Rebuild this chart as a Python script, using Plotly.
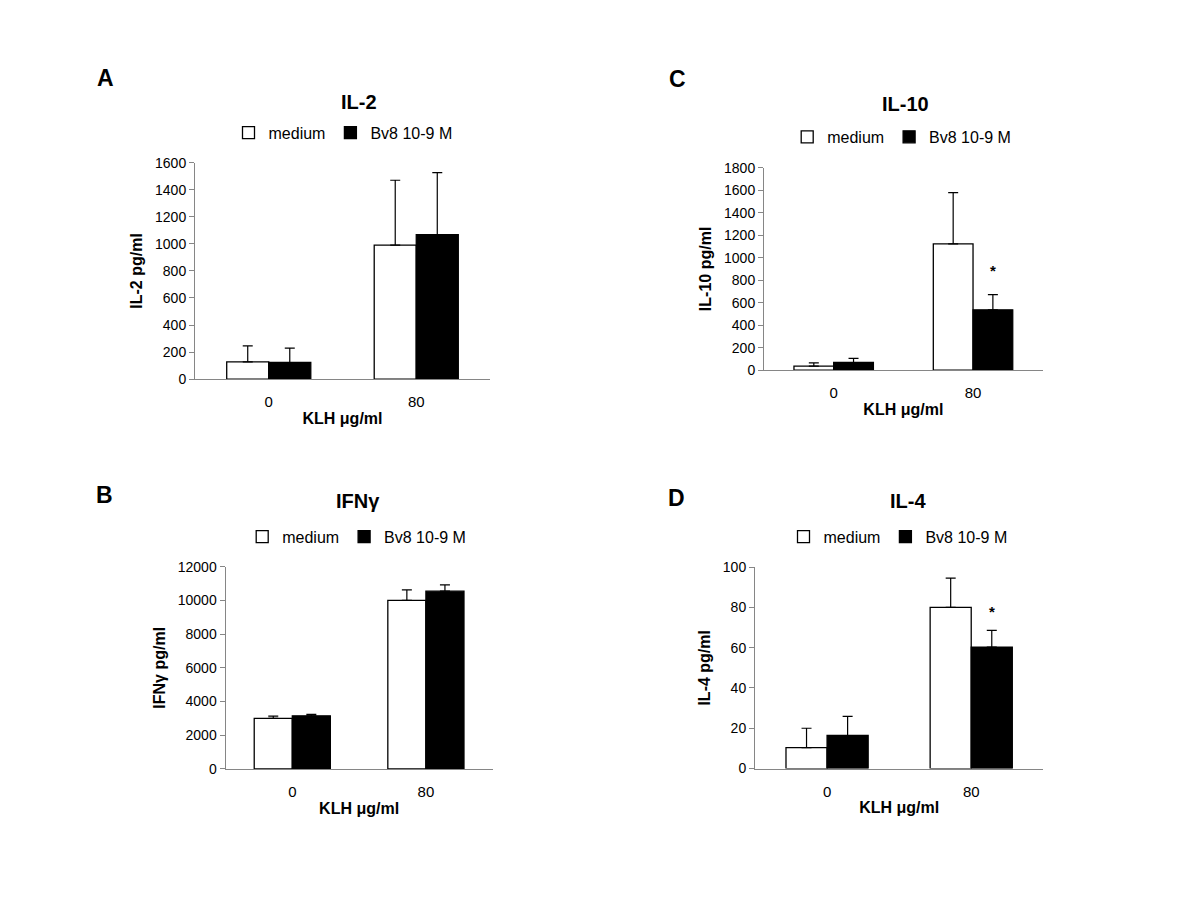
import plotly.graph_objects as go

# ---------------- data ----------------
categories = ["0", "80"]
series_names = ["medium", "Bv8 10-9 M"]

il2_medium = [128, 990]
il2_medium_err = [118, 480]
il2_bv8 = [123, 1068]
il2_bv8_err = [106, 458]

ifng_medium = [3000, 10000]
ifng_medium_err = [130, 620]
ifng_bv8 = [3150, 10550]
ifng_bv8_err = [80, 370]

il10_medium = [35, 1122]
il10_medium_err = [30, 456]
il10_bv8 = [68, 536]
il10_bv8_err = [36, 136]

il4_medium = [10.4, 80]
il4_medium_err = [9.6, 14.5]
il4_bv8 = [16.4, 60.3]
il4_bv8_err = [9.5, 8.3]

panel_letters = ["A", "B", "C", "D"]
panel_titles = ["IL-2", "IFNγ", "IL-10", "IL-4"]
y_titles = ["IL-2 pg/ml", "IFNγ pg/ml", "IL-10 pg/ml", "IL-4 pg/ml"]
x_title = "KLH μg/ml"
y_max = [1600, 12000, 1800, 100]
y_step = [200, 2000, 200, 20]
significance = [None, None, "*", "*"]   # marker above Bv8 at KLH 80
star_y = [None, None, 882, 78]

# ---------------- layout geometry (target pixels in the 1200x900 page) ----------------
PAGE_MARGIN = 8                     # default <body> margin of the html page
W, H = 1200 - 2 * PAGE_MARGIN, 900 - 2 * PAGE_MARGIN
Y_SCALE, Y_OFF = 0.9825, 7.1        # observed vertical mapping of the screenshot


def px(x):
    return (x - PAGE_MARGIN) / W


def py(y):
    y_int = (y - Y_OFF) / Y_SCALE
    return 1 - (y_int - PAGE_MARGIN) / H


# x0, x1, y_top, y_bottom of the plot areas
boxes = [
    (195, 490, 161.7, 378.3),    # A
    (225.5, 492.7, 566, 768.3),  # B
    (764, 1042.7, 166.7, 369.3), # C
    (755, 1043.3, 566.3, 768),   # D
]
title_pos = [(359, 101.5), (358, 500), (905, 102.7), (908, 500)]
legend_pos = [(343, 131.7), (356.7, 536), (901.7, 136), (898, 536)]
letter_pos = [(105, 77), (104, 494), (677.5, 78), (676, 497)]

FONT = "Arial, Liberation Sans, sans-serif"
AXIS_GRAY = "#868686"
BARGAP = 0.43

data_sets = [
    (il2_medium, il2_medium_err, il2_bv8, il2_bv8_err),
    (ifng_medium, ifng_medium_err, ifng_bv8, ifng_bv8_err),
    (il10_medium, il10_medium_err, il10_bv8, il10_bv8_err),
    (il4_medium, il4_medium_err, il4_bv8, il4_bv8_err),
]

fig = go.Figure()
layout = dict(
    width=W, height=H,
    margin=dict(l=0, r=0, t=0, b=0),
    paper_bgcolor="white", plot_bgcolor="white",
    barmode="group", bargap=BARGAP, bargroupgap=0,
    font=dict(family=FONT, color="black", size=14),
    annotations=[],
)

for i, (med, med_err, bv, bv_err) in enumerate(data_sets):
    n = i + 1
    xa = "x" if n == 1 else f"x{n}"
    ya = "y" if n == 1 else f"y{n}"
    lg = "legend" if n == 1 else f"legend{n}"
    for name, vals, errs, color in [
        (series_names[0], med, med_err, "white"),
        (series_names[1], bv, bv_err, "black"),
    ]:
        fig.add_trace(go.Bar(
            x=categories, y=vals, name=name,
            xaxis=xa, yaxis=ya, legend=lg,
            marker=dict(color=color, line=dict(color="black", width=1.3)),
            error_y=dict(type="data", array=errs, arrayminus=[0] * len(errs),
                         symmetric=False, color="black", thickness=1.2, width=5),
            showlegend=True,
        ))

    x0, x1, yt, yb = boxes[i]
    xkey = "xaxis" if n == 1 else f"xaxis{n}"
    ykey = "yaxis" if n == 1 else f"yaxis{n}"
    layout[xkey] = dict(
        domain=[px(x0), px(x1)], anchor=ya,
        type="category", range=[-0.5, 1.5],
        showline=True, linecolor=AXIS_GRAY, linewidth=1,
        ticks="", showgrid=False, zeroline=False,
        tickfont=dict(size=15, family=FONT, color="black"),
        ticklabelstandoff=9,
        title=dict(text=f"<b>{x_title}</b>", font=dict(size=16, family=FONT), standoff=3),
        fixedrange=True,
    )
    layout[ykey] = dict(
        domain=[py(yb), py(yt)], anchor=xa,
        range=[0, y_max[i]], tickmode="linear", tick0=0, dtick=y_step[i],
        tickformat="d",
        showline=True, linecolor=AXIS_GRAY, linewidth=1,
        ticks="outside", ticklen=5, tickcolor=AXIS_GRAY, tickwidth=1,
        showgrid=False, zeroline=False,
        tickfont=dict(size=14, family=FONT, color="black"),
        title=dict(text=f"<b>{y_titles[i]}</b>", font=dict(size=16, family=FONT), standoff=8),
        fixedrange=True,
    )
    lx, ly = legend_pos[i]
    layout[lg] = dict(
        orientation="h", x=px(lx), y=py(ly), xanchor="center", yanchor="middle",
        font=dict(size=16, family=FONT, color="black"),
        bgcolor="rgba(0,0,0,0)", itemwidth=30, tracegroupgap=0,
        itemclick=False, itemdoubleclick=False,
    )
    tx, ty = title_pos[i]
    layout["annotations"].append(dict(
        text=f"<b>{panel_titles[i]}</b>", xref="paper", yref="paper",
        x=px(tx), y=py(ty), xanchor="center", yanchor="middle",
        showarrow=False, font=dict(size=20, family=FONT, color="black"),
    ))
    lpx, lpy = letter_pos[i]
    layout["annotations"].append(dict(
        text=f"<b>{panel_letters[i]}</b>", xref="paper", yref="paper",
        x=px(lpx), y=py(lpy), xanchor="center", yanchor="middle",
        showarrow=False, font=dict(size=23, family=FONT, color="black"),
    ))
    if significance[i]:
        # category axes take the category's serial number; shift to the Bv8 bar centre
        bar_offset = (1 - BARGAP) / 4
        layout["annotations"].append(dict(
            text=f"<b>{significance[i]}</b>", xref=xa, yref=ya,
            x=categories.index("80") + bar_offset, y=star_y[i],
            xanchor="center", yanchor="middle",
            showarrow=False, font=dict(size=15, family=FONT, color="black"),
        ))

fig.update_layout(**layout)
fig.write_html("out.html")
